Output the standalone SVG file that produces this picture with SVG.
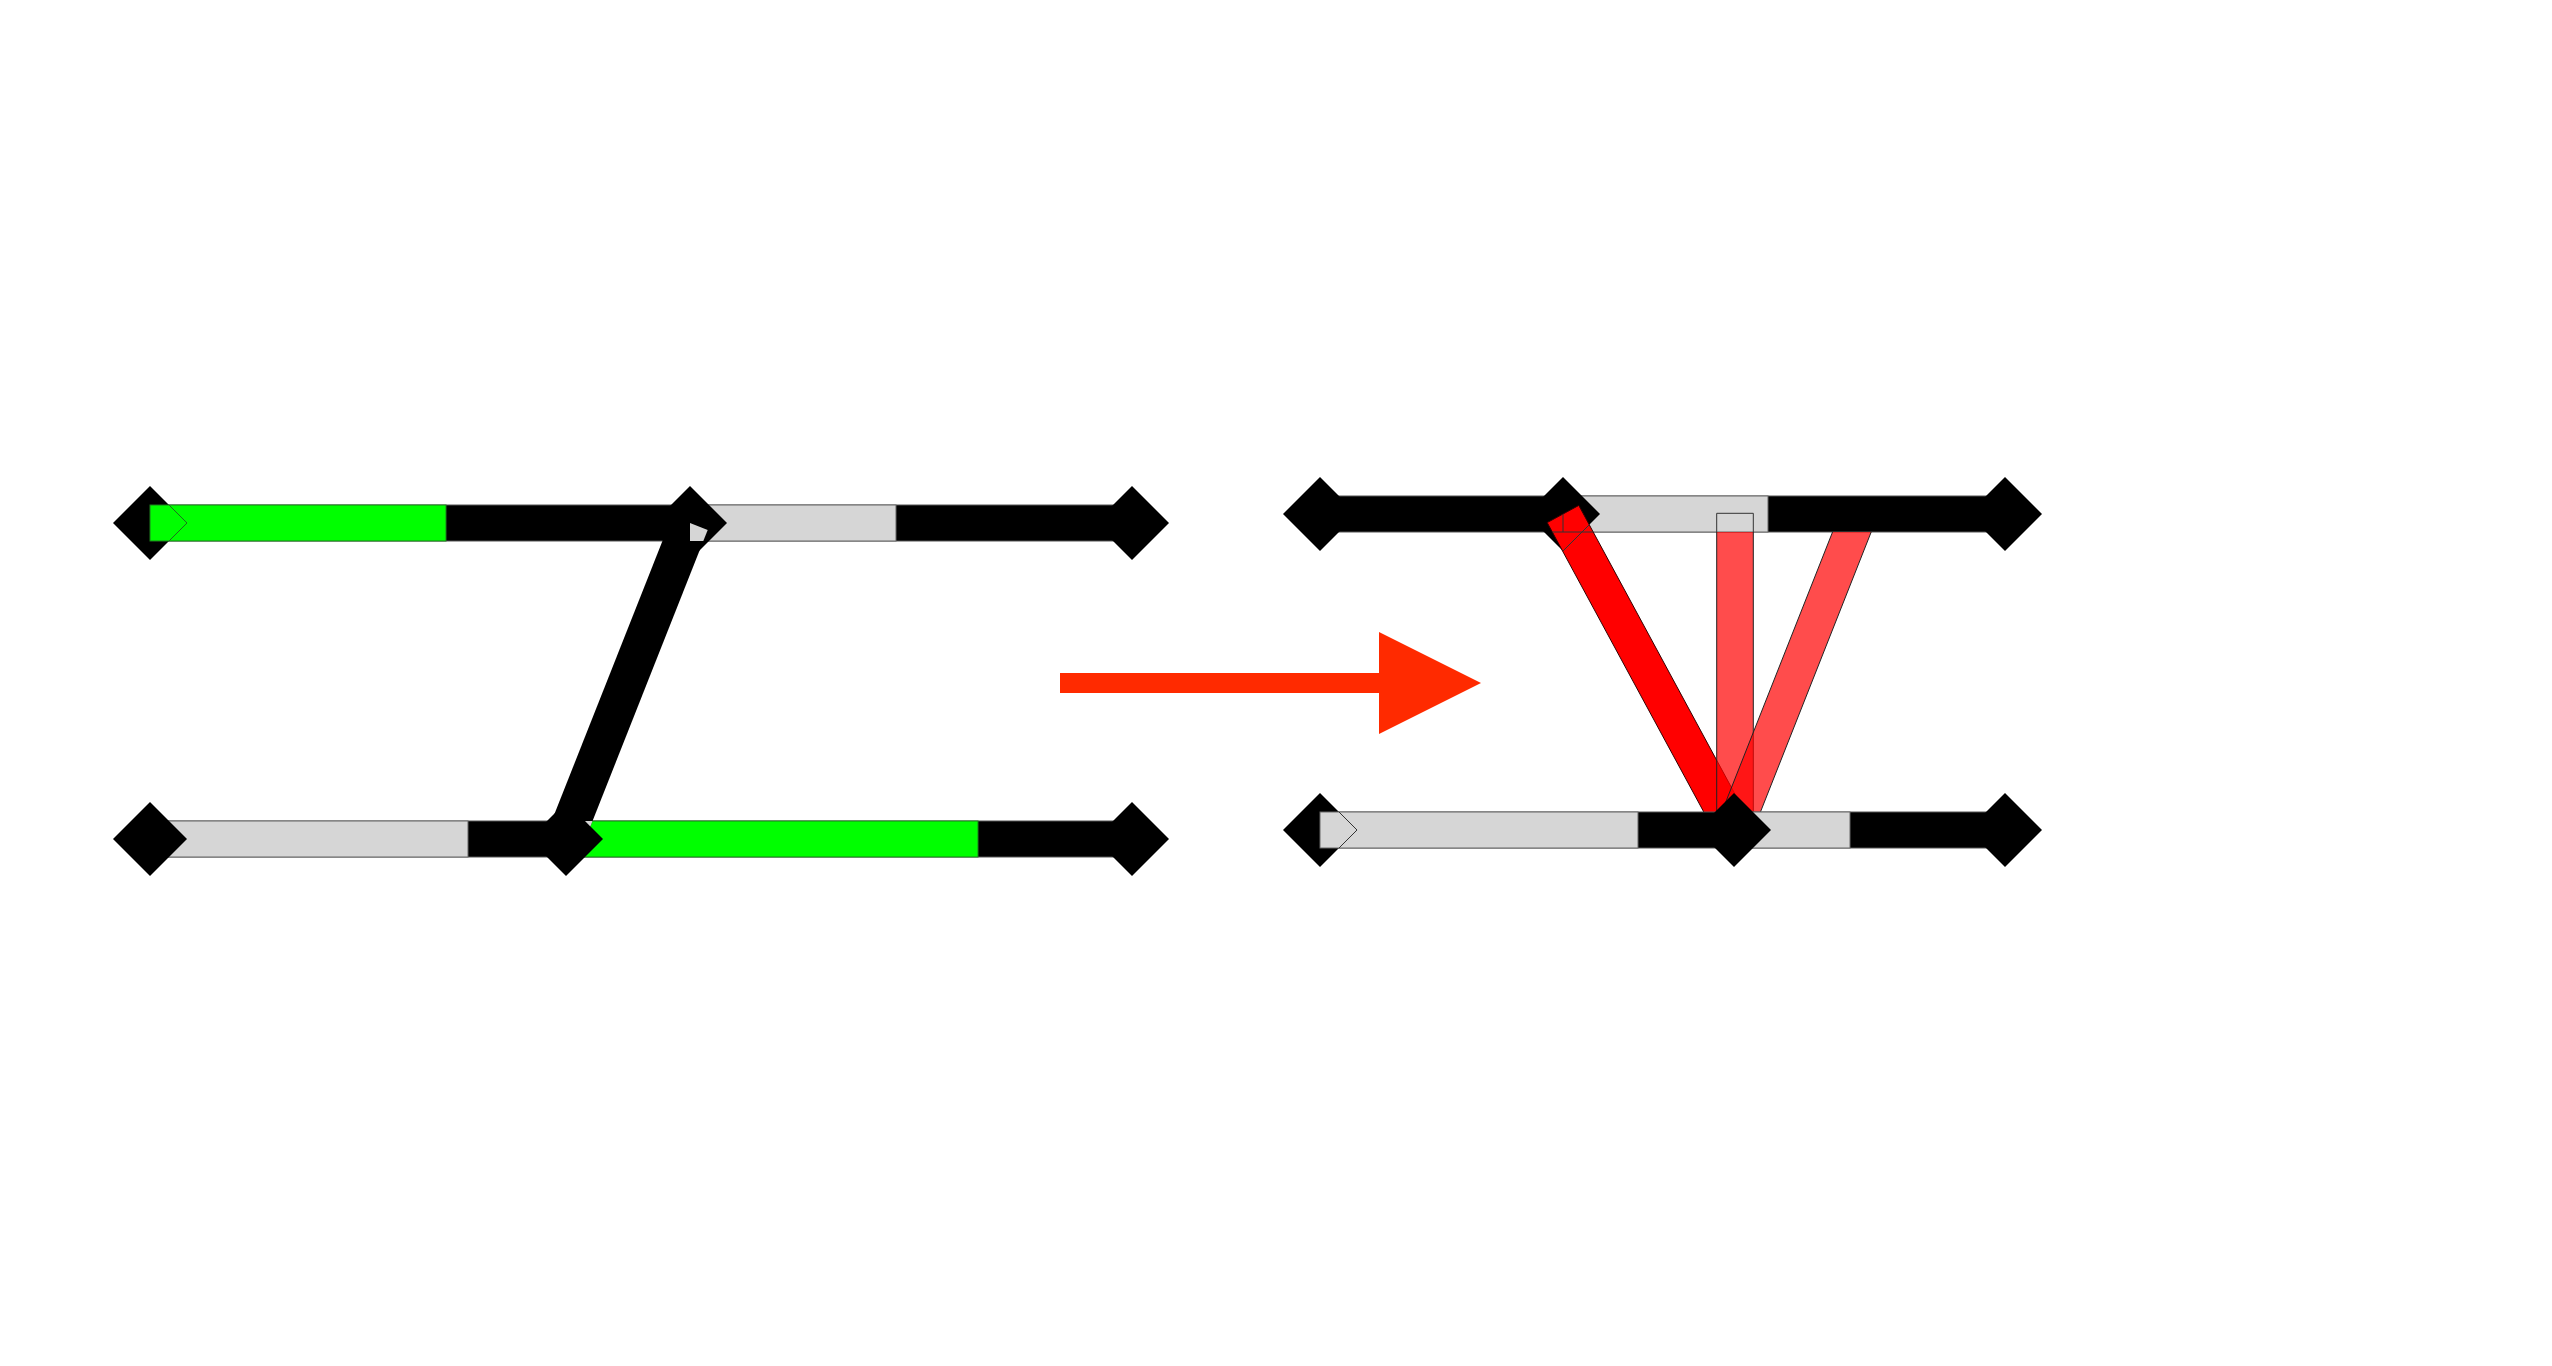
<svg xmlns="http://www.w3.org/2000/svg" xmlns:xlink="http://www.w3.org/1999/xlink" width="2552" height="1366" viewBox="0 0 2552 1366">
<defs>
<style>
.track{fill:#000;stroke:#555;stroke-width:1}
.gray{fill:#d6d6d6;stroke:#666;stroke-width:1}
.green{fill:#00ff00;stroke:#1e7d1e;stroke-width:1}
.edge{fill:none;stroke:#333;stroke-width:1}
.gedge{fill:none;stroke:#1e6d1e;stroke-width:1}
.bar1{fill:#ff0000;stroke:#300;stroke-width:1}
.bar2{fill:#ff0000;fill-opacity:0.7;stroke:#222;stroke-width:1}
.conn{stroke:#000;stroke-width:38;stroke-linecap:butt;fill:none}
</style>
<polygon id="d" points="0,-37 37,0 0,37 -37,0" fill="#000"/>
<clipPath id="mid"><rect x="1300" y="532" width="800" height="280"/></clipPath>
<clipPath id="b1clip"><polygon points="1547.2,522.6 1578.8,505.4 1749.8,821.4 1718.2,838.6"/></clipPath>
</defs>
<rect x="0" y="0" width="2552" height="1366" fill="#fff"/>

<!-- LEFT DIAGRAM -->
<g id="left-top-track">
<rect class="track" x="150" y="505" width="982" height="36"/>
<rect class="gray" x="690" y="505" width="206" height="36"/>
<use xlink:href="#d" x="150" y="523"/>
<use xlink:href="#d" x="690" y="523"/>
<use xlink:href="#d" x="1132" y="523"/>
<rect class="green" x="150" y="505" width="296" height="36"/>
<polyline class="gedge" points="169,505 187,523 169,541"/>
</g>
<g id="left-bottom-track">
<rect class="track" x="150" y="821" width="982" height="36"/>
<rect class="gray" x="150" y="821" width="318" height="36"/>
<rect class="green" x="566" y="821" width="412" height="36"/>
<use xlink:href="#d" x="150" y="839"/>
<use xlink:href="#d" x="566" y="839"/>
<use xlink:href="#d" x="1132" y="839"/>
</g>
<g id="connectors">
<line class="conn" x1="690" y1="523" x2="565" y2="839"/>
<polygon fill="#d6d6d6" points="690,523 707.7,530 703.3,541 690,541"/>
<polygon fill="#d6d6d6" points="585,821 592.5,821 590.4,826.4"/>
</g>

<!-- ARROW -->
<g id="transition-arrow" fill="#ff2a00">
<rect x="1060" y="673" width="319" height="20"/>
<polygon points="1379,632 1481,683 1379,734"/>
</g>

<!-- RIGHT DIAGRAM -->
<g id="right-top-track">
<rect class="track" x="1320" y="496" width="685" height="36"/>
<rect class="gray" x="1563" y="496" width="205" height="36"/>
<use xlink:href="#d" x="1320" y="514"/>
<use xlink:href="#d" x="1563" y="514"/>
<use xlink:href="#d" x="2005" y="514"/>
<path class="edge" d="M1716.7 532 V513.3 H1753.3 V532"/>
</g>
<g id="bar-1">
<polygon class="bar1" points="1547.2,522.6 1578.8,505.4 1749.8,821.4 1718.2,838.6"/>
<g clip-path="url(#b1clip)">
<path class="edge" d="M1540 532 H1600 M1563 514 V532 M1563 551 L1600 514"/>
</g>
</g>
<g id="bars-2-3" clip-path="url(#mid)">
<rect class="bar2" x="1716.7" y="513.3" width="36.6" height="316.7"/>
<polygon class="bar2" points="1717.3,823.4 1750.7,836.6 1875.7,520.6 1842.3,507.4"/>
</g>
<g id="right-bottom-track">
<rect class="track" x="1320" y="812" width="685" height="36"/>
<rect class="gray" x="1734" y="812" width="116" height="36"/>
<use xlink:href="#d" x="1320" y="830"/>
<use xlink:href="#d" x="1734" y="830"/>
<use xlink:href="#d" x="2005" y="830"/>
<rect class="gray" x="1320" y="812" width="318" height="36"/>
<polyline class="edge" points="1339,812 1357,830 1339,848"/>
</g>
</svg>
